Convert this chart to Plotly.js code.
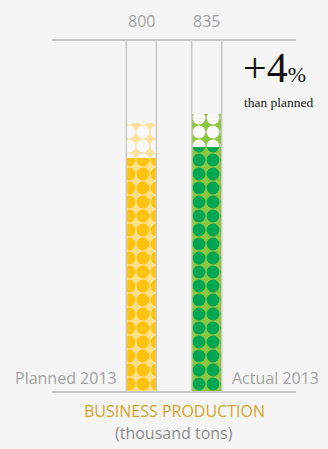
<!DOCTYPE html>
<html>
<head>
<meta charset="utf-8">
<script src="https://cdn.plot.ly/plotly-3.0.1.min.js"></script>
<style>
html,body{margin:0;padding:0;background:#f5f5f5;}
#chart{width:328px;height:449px;}
</style>
</head>
<body>
<div id="chart"></div>
<script>
// ---- data ----
const categories = ['Planned 2013', 'Actual 2013'];
const values = [800, 835];
const headroom = [120, 115];           // empty "cells" drawn above each fill
const valueLabels = ['800', '835'];
const chartTitle = 'BUSINESS PRODUCTION';
const chartUnit = '(thousand tons)';
const diffNote = 'than planned';

// ---- styles ----
const dotColors = ['#ffc20e', '#00a651'];
const dotBg = ['#ffe08a', '#8dc63f'];
const emptyBg = ['#ffe3a0', '#8dc63f'];
const emptyDot = '#f9f9f9';
const gridGray = '#c8c8c8';
const textGray = '#a3a3a3';
const barWidth = 0.46;
const dotSize = 14;

const xIdx = categories.map((c, i) => i);
const pct = Math.round((values[1] - values[0]) / values[0] * 100);

const traces = [];
xIdx.forEach(i => {
  traces.push({
    type: 'bar', x: [i], y: [values[i]], width: barWidth,
    marker: {
      color: dotBg[i],
      line: {width: 0},
      pattern: {shape: '.', fgcolor: dotColors[i], bgcolor: dotBg[i], fgopacity: 1, size: dotSize, solidity: 0.66, fillmode: 'replace'}
    },
    hoverinfo: 'skip'
  });
});
xIdx.forEach(i => {
  traces.push({
    type: 'bar', x: [i], y: [headroom[i]], width: barWidth,
    marker: {
      color: emptyBg[i],
      line: {width: 0},
      pattern: {shape: '.', fgcolor: emptyDot, bgcolor: emptyBg[i], fgopacity: 1, size: dotSize, solidity: 0.66, fillmode: 'replace'}
    },
    hoverinfo: 'skip'
  });
});

const shapes = [];
xIdx.forEach(i => {
  [-barWidth / 2, barWidth / 2].forEach(d => {
    shapes.push({type: 'line', xref: 'x', yref: 'paper', x0: i + d, x1: i + d, y0: 0, y1: 1,
      line: {color: gridGray, width: 1.5}, layer: 'above'});
  });
});

const annotations = [];
xIdx.forEach(i => {
  annotations.push({xref: 'x', yref: 'paper', x: i, y: 1, yanchor: 'bottom', yshift: 7,
    text: valueLabels[i], showarrow: false, font: {family: 'Open Sans', size: 16, color: textGray}});
});
annotations.push({xref: 'x', yref: 'paper', x: 0, y: 0, xanchor: 'right', yanchor: 'middle',
  xshift: -22, yshift: 13, text: categories[0], showarrow: false,
  font: {family: 'Open Sans', size: 16, color: textGray}});
annotations.push({xref: 'x', yref: 'paper', x: 1, y: 0, xanchor: 'left', yanchor: 'middle',
  xshift: 23, yshift: 13, text: categories[1], showarrow: false,
  font: {family: 'Open Sans', size: 16, color: textGray}});
annotations.push({xref: 'paper', yref: 'paper', x: 0.5, y: 0, xanchor: 'center', yanchor: 'middle',
  yshift: -20, text: chartTitle, showarrow: false,
  font: {family: 'Open Sans', size: 16, color: '#d4a52a'}});
annotations.push({xref: 'paper', yref: 'paper', x: 0.5, y: 0, xanchor: 'center', yanchor: 'middle',
  yshift: -42, text: chartUnit, showarrow: false,
  font: {family: 'Open Sans', size: 16, color: '#8c8c8c'}});
annotations.push({xref: 'paper', yref: 'paper', x: 0.775, y: 0.922, xanchor: 'left', yanchor: 'middle',
  text: '+' + pct + '<span style="font-size:22px">%</span>', showarrow: false,
  font: {family: 'Liberation Serif', size: 42, color: '#111111'}});
annotations.push({xref: 'paper', yref: 'paper', x: 0.779, y: 0.823, xanchor: 'left', yanchor: 'middle',
  text: diffNote, showarrow: false,
  font: {family: 'Liberation Serif', size: 13.5, color: '#222222'}});

const layout = {
  width: 328, height: 449,
  margin: {l: 52, r: 32, t: 41, b: 58},
  paper_bgcolor: '#f5f5f5', plot_bgcolor: '#f5f5f5',
  barmode: 'stack', bargap: 0, showlegend: false,
  xaxis: {range: [-1.368, 2.368], showline: true, mirror: true, linecolor: gridGray, linewidth: 2,
    showgrid: false, zeroline: false, showticklabels: false, ticks: '', fixedrange: true},
  yaxis: {range: [0, 1200], visible: false, showline: false, showgrid: false, zeroline: false, fixedrange: true},
  shapes: shapes,
  annotations: annotations
};

Plotly.newPlot('chart', traces, layout, {staticPlot: true, displayModeBar: false});
</script>
</body>
</html>
